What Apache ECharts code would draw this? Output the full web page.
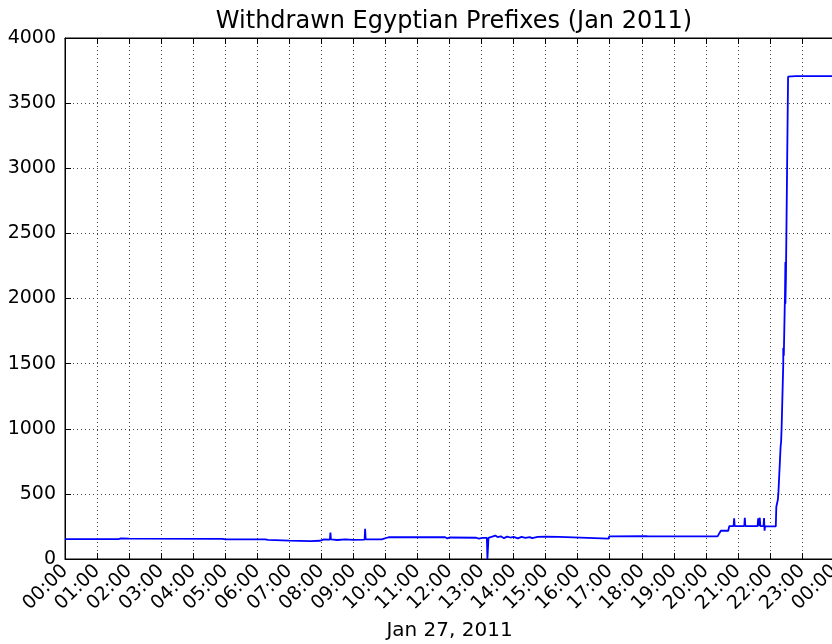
<!DOCTYPE html>
<html>
<head>
<meta charset="utf-8">
<script src="https://cdn.jsdelivr.net/npm/echarts@6/dist/echarts.min.js"></script>
<style>
  html, body { margin: 0; padding: 0; background: #fff; }
  #chart { width: 832px; height: 644px; }
</style>
</head>
<body>
<div id="chart"></div>
<script>
// Withdrawn Egyptian prefixes, Jan 27 2011
const times = [
  '00:00', '01:40', '01:45', '02:00', '04:55', '05:00', '06:15', '06:20', '07:00', '07:40',
  '07:57', '08:05', '08:16', '08:17', '08:18', '08:30', '08:45', '09:00', '09:21', '09:22',
  '09:23', '09:53', '10:06', '11:52', '11:56', '12:00', '12:50', '12:55', '13:02', '13:10',
  '13:11', '13:12', '13:13', '13:20', '13:26', '13:30', '13:36', '13:42', '13:48', '13:54',
  '14:00', '14:08', '14:15', '14:22', '14:30', '14:35', '14:45', '15:00', '15:25', '15:28',
  '16:58', '16:59', '18:08', '18:10', '18:12', '20:22', '20:28', '20:42', '20:44', '20:52',
  '20:53', '20:54', '21:12', '21:13', '21:14', '21:37', '21:38', '21:39', '21:40', '21:41',
  '21:42', '21:48', '21:49', '21:50', '21:51', '22:11', '22:12', '22:15', '22:16', '22:20',
  '22:21', '22:22', '22:25', '22:25', '22:26', '22:28', '22:28', '22:29', '22:29', '22:30',
  '22:34', '22:36', '22:48', '24:00'
];
const prefixes = [
  153, 153, 158, 156, 154, 151, 150, 147, 141, 138,
  140, 150, 148, 202, 150, 146, 150, 147, 148, 232,
  150, 150, 167, 167, 158, 165, 163, 156, 162, 162,
  0, 0, 163, 172, 180, 168, 174, 160, 172, 165,
  170, 158, 170, 162, 168, 160, 170, 171, 170, 156,
  156, 174, 175, 181, 174, 174, 217, 217, 253, 253,
  312, 253, 253, 317, 253, 253, 312, 253, 253, 317,
  253, 253, 315, 217, 253, 250, 401, 458, 517, 862,
  900, 1021, 1500, 1620, 1560, 1988, 1960, 2280, 1960, 2170,
  3703, 3695, 3708, 3708
];
const hourTicks = ['00:00', '01:00', '02:00', '03:00', '04:00', '05:00', '06:00', '07:00',
  '08:00', '09:00', '10:00', '11:00', '12:00', '13:00', '14:00', '15:00', '16:00', '17:00',
  '18:00', '19:00', '20:00', '21:00', '22:00', '23:00', '00:00'];

const toHours = (s) => {
  const [h, m] = s.split(':').map(Number);
  return h + m / 60;
};
const seriesData = times.map((t, i) => [toHours(t), prefixes[i]]);

const font = 'DejaVu Sans';
const gridLine = { show: true, lineStyle: { color: '#444', type: [1, 3], width: 1 } };

const chart = echarts.init(document.getElementById('chart'), null, { renderer: 'canvas' });
chart.setOption({
  animation: false,
  backgroundColor: '#fff',
  title: {
    text: 'Withdrawn Egyptian Prefixes (Jan 2011)',
    left: 449,
    top: 5,
    textAlign: 'center',
    textStyle: { fontFamily: font, fontSize: 24, fontWeight: 'normal', color: '#000' }
  },
  grid: {
    left: 65, top: 38, width: 769, height: 521,
    outerBoundsMode: 'none',
    show: true, borderColor: '#000', borderWidth: 1, backgroundColor: 'transparent'
  },
  xAxis: [
    {
      type: 'value', min: 0, max: 24, interval: 1,
      name: 'Jan 27, 2011', nameLocation: 'middle', nameGap: 62,
      nameTextStyle: { fontFamily: font, fontSize: 20, color: '#000' },
      axisLine: { show: true, onZero: false, lineStyle: { color: '#000', width: 1 } },
      axisTick: { show: true, inside: true, length: 6, lineStyle: { color: '#000' } },
      axisLabel: {
        rotate: 45, margin: 9, fontFamily: font, fontSize: 19, color: '#000',
        showMaxLabel: true, showMinLabel: true, hideOverlap: false,
        formatter: (v) => hourTicks[Math.round(v)]
      },
      splitLine: gridLine
    },
    {
      type: 'value', position: 'top', min: 0, max: 24, interval: 1,
      axisLine: { show: true, onZero: false, lineStyle: { color: '#000', width: 1 } },
      axisTick: { show: true, inside: true, length: 6, lineStyle: { color: '#000' } },
      axisLabel: { show: false },
      splitLine: { show: false }
    }
  ],
  yAxis: {
    type: 'value', min: 0, max: 4000, interval: 500,
    axisLine: { show: true, onZero: false, lineStyle: { color: '#000', width: 1 } },
    axisTick: { show: true, inside: true, length: 6, lineStyle: { color: '#000' } },
    axisLabel: {
      margin: 9, fontFamily: font, fontSize: 19, color: '#000',
      formatter: (v) => String(v)
    },
    splitLine: gridLine
  },
  series: [
    {
      type: 'line',
      data: seriesData,
      showSymbol: false,
      lineStyle: { color: '#0000ff', width: 1.8 },
      itemStyle: { color: '#0000ff' }
    }
  ]
});
</script>
</body>
</html>
